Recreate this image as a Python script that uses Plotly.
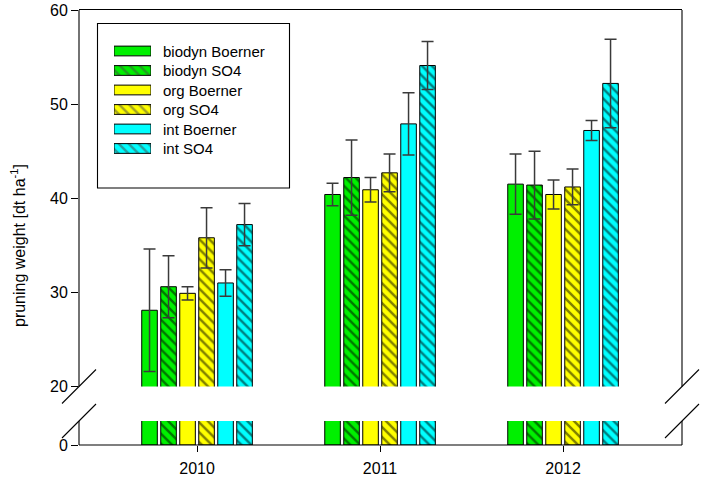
import plotly.graph_objects as go

years = ["2010", "2011", "2012"]
series = ["biodyn Boerner", "biodyn SO4", "org Boerner", "org SO4", "int Boerner", "int SO4"]
colors = ["#00f000", "#00f000", "#ffff00", "#ffff00", "#00ffff", "#00ffff"]
hatched = [False, True, False, True, False, True]

biodyn_boerner = [28.1, 40.4, 41.5]
biodyn_so4 = [30.6, 42.2, 41.4]
org_boerner = [29.9, 40.9, 40.4]
org_so4 = [35.8, 42.7, 41.2]
int_boerner = [31.0, 47.9, 47.2]
int_so4 = [37.2, 54.1, 52.2]
values = [biodyn_boerner, biodyn_so4, org_boerner, org_so4, int_boerner, int_so4]

err_biodyn_boerner = [6.5, 1.2, 3.2]
err_biodyn_so4 = [3.3, 4.0, 3.6]
err_org_boerner = [0.7, 1.3, 1.55]
err_org_so4 = [3.2, 2.0, 1.9]
err_int_boerner = [1.4, 3.3, 1.07]
err_int_so4 = [2.25, 2.55, 4.7]
errors = [err_biodyn_boerner, err_biodyn_so4, err_org_boerner, err_org_so4, err_int_boerner, err_int_so4]

yticks_upper = [20, 30, 40, 50, 60]
ytick_lower = [0]

FONT = "Liberation Sans, Arial, sans-serif"
W, H = 703, 478
L, R, T, B = 79, 21, 10, 33
PW, PH = W - L - R, H - T - B

def px2x(px):
    return (px - L) / PW

def py2y(py):
    return (H - B - py) / PH

up_lo = py2y(386.5)
lo_hi = py2y(421)

xpos = list(range(len(years)))

fig = go.Figure()
for i, name in enumerate(series):
    pattern = dict(shape="\\" if hatched[i] else "", fgcolor="#000000",
                   bgcolor=colors[i], size=7, solidity=0.35)
    marker = dict(color=colors[i], line=dict(color="#000000", width=1), pattern=pattern)
    fig.add_trace(go.Bar(x=xpos, y=values[i], name=name, marker=marker,
                         xaxis="x", yaxis="y", showlegend=False,
                         error_y=dict(type="data", array=errors[i], visible=True,
                                      color="#3a3a3a", thickness=1.5, width=6)))
    fig.add_trace(go.Bar(x=xpos, y=values[i], name=name, marker=marker,
                         xaxis="x", yaxis="y2", showlegend=False))

# custom legend swatches
leg_rows = list(range(len(series)))
fig.add_trace(go.Bar(
    y=leg_rows, x=[1] * len(series), orientation="h", base=0,
    width=0.5, xaxis="x3", yaxis="y3", showlegend=False, hoverinfo="skip",
    marker=dict(color=colors, line=dict(color="#000000", width=1),
                pattern=dict(shape=["\\" if h else "" for h in hatched],
                             fgcolor="#000000", bgcolor=colors, size=7, solidity=0.35))))

annotations = []
for i, name in enumerate(series):
    annotations.append(dict(x=px2x(161), y=i, xref="paper", yref="y3", text=name,
                            showarrow=False, xanchor="left", yanchor="middle",
                            font=dict(family=FONT, size=15, color="#000000")))
annotations.append(dict(x=px2x(18), y=py2y(246), xref="paper", yref="paper",
                        text="pruning weight [dt ha<sup>-1</sup>]", textangle=-90,
                        showarrow=False, xanchor="center", yanchor="middle",
                        font=dict(family=FONT, size=16, color="#000000")))

line = dict(color="#000000", width=1.1)
shapes = [
    dict(type="line", xref="paper", yref="paper", x0=0, x1=0, y0=up_lo, y1=1, line=line),
    dict(type="line", xref="paper", yref="paper", x0=0, x1=0, y0=0, y1=lo_hi, line=line),
    dict(type="line", xref="paper", yref="paper", x0=1, x1=1, y0=up_lo, y1=1, line=line),
    dict(type="line", xref="paper", yref="paper", x0=1, x1=1, y0=0, y1=lo_hi, line=line),
    dict(type="line", xref="paper", yref="paper", x0=0, x1=1, y0=0, y1=0, line=line),
    # legend box
    dict(type="rect", xref="paper", yref="paper", x0=px2x(97.5), x1=px2x(289.5),
         y0=py2y(188), y1=py2y(23.5), line=line),
]
dx = 17 / PW
dy = 17 / PH
for cx in (0, 1):
    for cy in (up_lo, lo_hi):
        shapes.append(dict(type="line", xref="paper", yref="paper",
                           x0=cx - dx, x1=cx + dx, y0=cy - dy, y1=cy + dy, line=line))

tickfont = dict(family=FONT, size=16, color="#000000")
fig.update_layout(
    width=W, height=H,
    margin=dict(l=L, r=R, t=T, b=B, pad=0, autoexpand=False),
    paper_bgcolor="white", plot_bgcolor="rgba(0,0,0,0)",
    barmode="group", bargap=0.377, bargroupgap=0.18,
    xaxis=dict(domain=[0, 1], range=[-0.645, 2.65], anchor="y2", automargin=False,
               tickmode="array", tickvals=xpos, ticktext=years,
               ticks="outside", ticklen=6, tickcolor="#000000", tickwidth=1,
               ticklabelstandoff=3,
               showline=False, showgrid=False, zeroline=False, tickfont=tickfont),
    xaxis4=dict(overlaying="x", matches="x", anchor="y", side="top",
                showline=True, linecolor="#000000", linewidth=1.1,
                showticklabels=False, ticks="", showgrid=False, zeroline=False,
                automargin=False),
    yaxis=dict(domain=[up_lo, 1], range=[20, 60], anchor="x", automargin=False,
               tickmode="array", tickvals=yticks_upper,
               ticks="outside", ticklen=7, tickcolor="#000000", tickwidth=1,
               showline=False, showgrid=False, zeroline=False, tickfont=tickfont),
    yaxis2=dict(domain=[0, lo_hi], range=[0, 5], anchor="x", automargin=False,
                tickmode="array", tickvals=ytick_lower,
                ticks="outside", ticklen=7, tickcolor="#000000", tickwidth=1,
                showline=False, showgrid=False, zeroline=False, tickfont=tickfont),
    xaxis3=dict(domain=[px2x(114), px2x(151)], range=[0, 1], anchor="y3",
                visible=False, fixedrange=True, automargin=False),
    yaxis3=dict(domain=[py2y(160), py2y(40)], range=[5.59, -0.564], anchor="x3",
                visible=False, fixedrange=True, automargin=False),
    shapes=shapes, annotations=annotations,
)
# invisible helper trace so the top frame axis is drawn
fig.add_trace(go.Scatter(x=[xpos[0]], y=[yticks_upper[-1]], xaxis="x4", yaxis="y",
                         mode="markers", marker=dict(opacity=0), showlegend=False,
                         hoverinfo="skip"))

fig.write_html("out.html", config={"displayModeBar": False},
               post_script="document.body.style.margin='0';")
